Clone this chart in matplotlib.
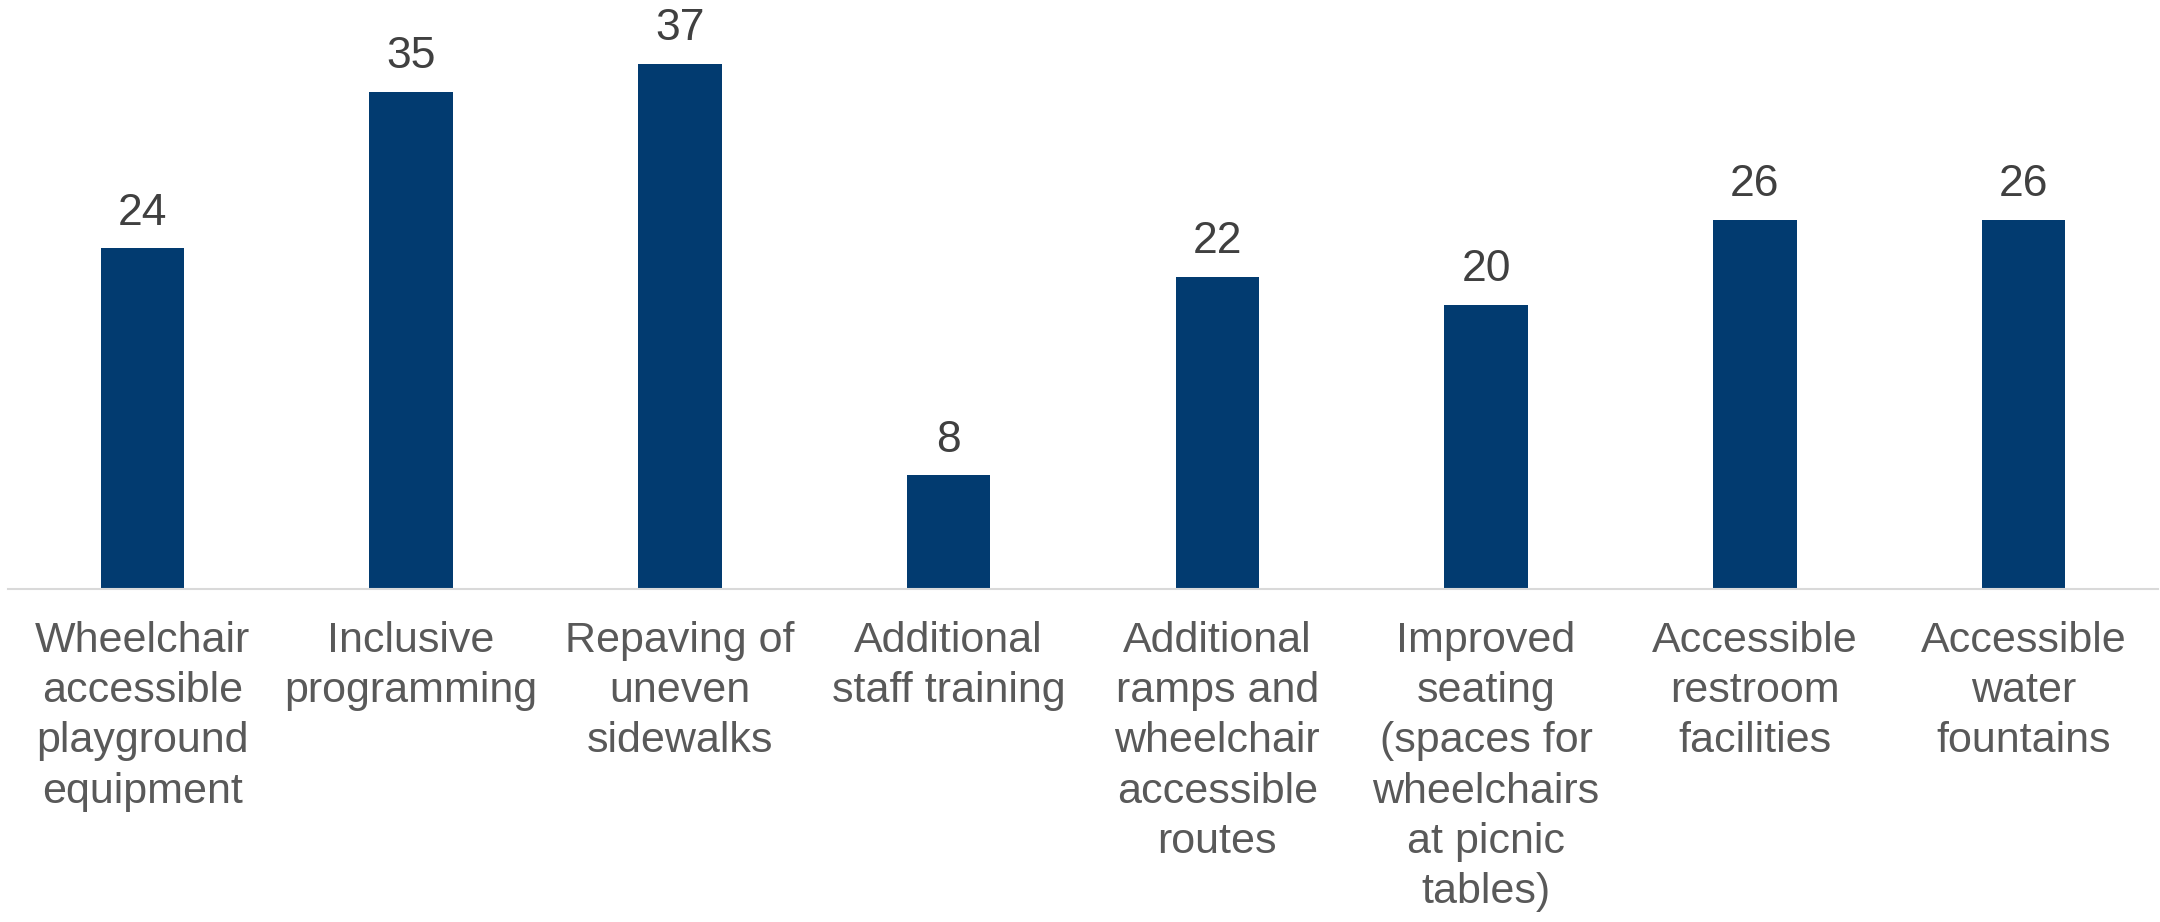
import matplotlib

matplotlib.use("Agg")
import matplotlib.pyplot as plt

categories = [
    "Wheelchair\naccessible\nplayground\nequipment",
    "Inclusive\nprogramming",
    "Repaving of\nuneven\nsidewalks",
    "Additional\nstaff training",
    "Additional\nramps and\nwheelchair\naccessible\nroutes",
    "Improved\nseating\n(spaces for\nwheelchairs\nat picnic\ntables)",
    "Accessible\nrestroom\nfacilities",
    "Accessible\nwater\nfountains",
]
counts = [24, 35, 37, 8, 22, 20, 26, 26]

BAR_COLOR = "#023B70"
VALUE_COLOR = "#404040"
LABEL_COLOR = "#595959"

plt.rcParams["font.family"] = ["Liberation Sans", "DejaVu Sans"]

fig = plt.figure(figsize=(21.6, 9.22), dpi=100)
ax = fig.add_axes([8 / 2160, 333 / 922, 2150 / 2160, 568 / 922])

x = list(range(len(categories)))
bars = ax.bar(x, counts, width=0.31, color=BAR_COLOR, zorder=2)

# value labels sit a fixed distance above each bar
for rect, val in zip(bars, counts):
    ax.annotate(
        f"{val}",
        xy=(rect.get_x() + rect.get_width() / 2, rect.get_height()),
        xytext=(0, 17),
        textcoords="offset points",
        ha="center",
        va="baseline",
        fontsize=32,
        color=VALUE_COLOR,
    )

ax.set_xlim(-0.5, len(categories) - 0.5)
ax.set_ylim(0, 40)
ax.set_xticks(x)
ax.set_xticklabels(categories, fontsize=31, color=LABEL_COLOR, linespacing=1.33, va="top")
ax.tick_params(axis="x", length=0, pad=23)
ax.set_yticks([])

for side in ["top", "left", "right"]:
    ax.spines[side].set_visible(False)
ax.spines["bottom"].set_color("#D9D9D9")
ax.spines["bottom"].set_linewidth(1.5)

fig.savefig("out.png", dpi=100)
plt.close(fig)
